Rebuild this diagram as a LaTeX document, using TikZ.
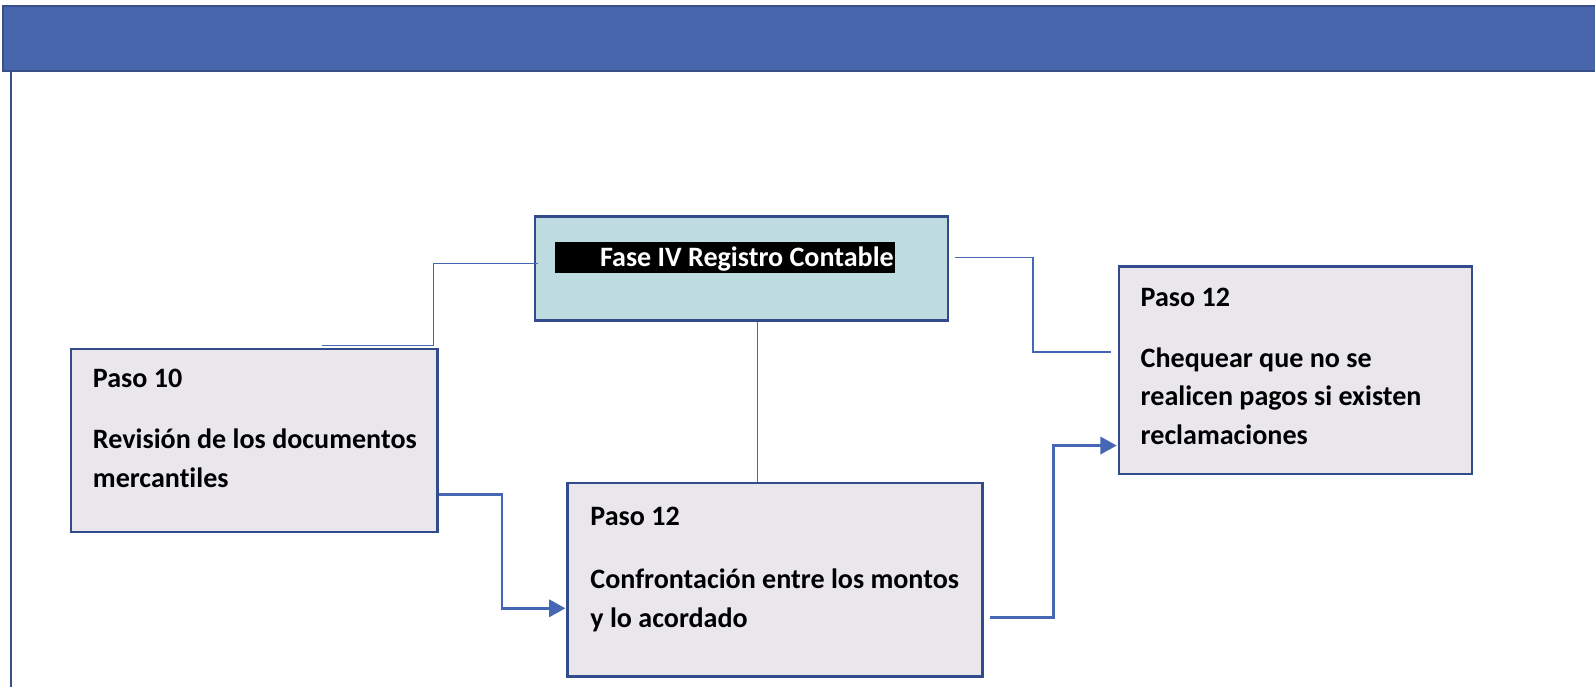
\documentclass[tikz,border=0pt]{standalone}
\usepackage{fontspec}
\setmainfont{Carlito}[Ligatures={NoCommon}]
\usetikzlibrary{arrows.meta,calc}
\definecolor{barblue}{RGB}{72,102,172}
\definecolor{bardark}{RGB}{56,80,135}
\definecolor{boxborder}{RGB}{50,75,138}
\definecolor{tealfill}{RGB}{190,219,223}
\definecolor{grayfill}{RGB}{233,231,236}
\definecolor{connblue}{RGB}{70,104,180}
\tikzset{
  stepbox/.style={draw=boxborder, line width=1.2pt, fill=grayfill, inner sep=0pt},
  phasebox/.style={draw=boxborder, line width=1.2pt, fill=tealfill, inner sep=0pt},
  txt/.style={anchor=base west, inner sep=0pt, font=\fontsize{13.8pt}{16pt}\selectfont\bfseries, text=black},
  thinconn/.style={draw=connblue, line width=0.6pt},
  arrowconn/.style={draw=connblue, line width=1.3pt, -{Triangle[length=8pt,width=8.5pt]}},
}
\begin{document}
\begin{tikzpicture}[x=0.5pt,y=-0.5pt]
\useasboundingbox (0,0) rectangle (1568,675);
% top bar and left rule
\fill[barblue] (3,6) rectangle (1570,70);
\draw[bardark, line width=1.2pt] (1570,6) -- (3,6) -- (3,70) -- (1570,70);
\draw[bardark, line width=1pt] (11,70) -- (11,676);
% boxes
\node[phasebox, minimum width=203pt, minimum height=51pt] (title) at (729,264) {};
\node[fill=black, minimum width=167pt, minimum height=15pt, inner sep=0pt] (lbl) at (713,253) {};
\node[anchor=base east, inner sep=0pt, font=\fontsize{13.8pt}{16pt}\selectfont\bfseries, text=white] (lbltxt) at (879,262) {Fase IV Registro Contable};

\node[stepbox, minimum width=180pt, minimum height=90pt] (p10) at (250,433) {};
\node[stepbox, minimum width=204pt, minimum height=95pt] (mid) at (762,570) {};
\node[stepbox, minimum width=173.5pt, minimum height=102pt] (right) at (1273.5,364) {};

% texts
\node[txt] (p10a) at (91,381) {Paso 10};
\node[txt] (p10b) at (91,441) {Revisión de los documentos};
\node[txt] (p10c) at (91,479) {mercantiles};

\node[txt] (mida) at (580,517) {Paso 12};
\node[txt] (midb) at (580,579) {Confrontación entre los montos};
\node[txt] (midc) at (580,617) {y lo acordado};

\node[txt] (ra) at (1121,301) {Paso 12};
\node[txt] (rb) at (1121,361) {Chequear que no se};
\node[txt] (rc) at (1121,399) {realicen pagos si existen};
\node[txt] (rd) at (1121,437) {reclamaciones};

% connectors
\coordinate (c1a) at ([xshift=2pt,yshift=2.5pt]title.west);
\coordinate (c1b) at ([xshift=-2.5pt,yshift=1pt]p10.north east);
\coordinate (c1c) at ([xshift=124pt,yshift=1pt]p10.north west);
\draw[thinconn] (c1a) -| (c1b) -- (c1c);

\coordinate (c2a) at ([xshift=8pt]title.south);
\draw[thinconn] (c2a) -- (c2a |- mid.north);

\coordinate (c3a) at ([xshift=3pt,yshift=5.5pt]title.east);
\coordinate (c3b) at ([xshift=-3.5pt,yshift=9pt]right.west);
\draw[thinconn] (c3a) -| ($(c3a)!0.5!(c3b)$) |- (c3b);

\coordinate (c4a) at ([yshift=-26.5pt]p10.east);
\coordinate (c4b) at ([xshift=-0.5pt,yshift=-14pt]mid.west);
\draw[arrowconn] (c4a) -| ($(c4a)!0.5!(c4b)$) |- (c4b);

\coordinate (c5a) at ([xshift=3pt,yshift=-18.5pt]mid.east);
\coordinate (c5b) at ([xshift=-0.5pt,yshift=-37pt]right.west);
\draw[arrowconn] (c5a) -| ($(c5a)!0.5!(c5b)$) |- (c5b);
\end{tikzpicture}
\end{document}
